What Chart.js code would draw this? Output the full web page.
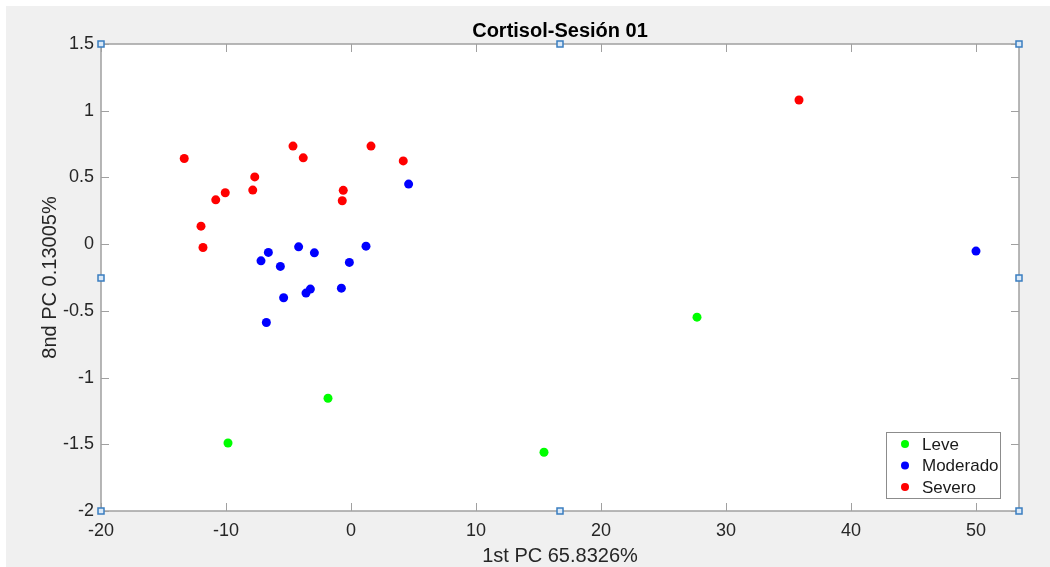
<!DOCTYPE html>
<html>
<head>
<meta charset="utf-8">
<script src="https://cdn.jsdelivr.net/npm/chart.js"></script>
<style>
  html, body { margin: 0; padding: 0; background: #ffffff; }
  #wrap { width: 1050px; height: 567px; }
</style>
</head>
<body>
<div id="wrap"><canvas id="pca"></canvas></div>
<script>
// PCA scores, session 01, grouped by severity
const leveX = [-9.84, -1.84, 15.44, 27.68];
const leveY = [-1.49, -1.155, -1.56, -0.547];

const moderadoX = [4.61, -6.61, -7.2, -5.65, -4.19, -2.93, 1.2, -0.13, -5.39, -3.25, -3.6, -0.77, -6.77, 50.0];
const moderadoY = [0.45, -0.062, -0.125, -0.167, -0.02, -0.065, -0.015, -0.137, -0.402, -0.337, -0.367, -0.33, -0.587, -0.052];

const severoX = [-13.34, -4.64, -3.82, 1.6, 4.18, -7.7, -7.86, -10.06, -10.82, -0.62, -0.7, -12.0, -11.84, 35.84];
const severoY = [0.642, 0.735, 0.647, 0.735, 0.624, 0.504, 0.405, 0.385, 0.332, 0.403, 0.325, 0.135, -0.025, 1.08];

const xTicks = [-20, -10, 0, 10, 20, 30, 40, 50];
const yTicks = [-2, -1.5, -1, -0.5, 0, 0.5, 1, 1.5];
const xLimits = [-20, 53.44];
const yLimits = [-2, 1.5];

const titleText = 'Cortisol-Sesión 01';
const xLabel = '1st PC 65.8326%';
const yLabel = '8nd PC 0.13005%';

const FONT = '"Liberation Sans", Arial, Helvetica, sans-serif';
const AXIS_GRAY = '#a0a0a0';
const TEXT_GRAY = '#262626';

const toPoints = (xs, ys) => xs.map((x, i) => ({ x: x, y: ys[i] }));

// figure background, white axes box, inward ticks on all four sides
const axesFrame = {
  id: 'axesFrame',
  beforeDraw(chart) {
    const c = chart.ctx;
    const a = chart.chartArea;
    c.save();
    c.fillStyle = '#ffffff';
    c.fillRect(0, 0, chart.width, chart.height);
    c.fillStyle = '#f0f0f0';
    c.fillRect(6, 6, chart.width - 6, chart.height - 6);
    c.fillStyle = '#ffffff';
    c.fillRect(a.left, a.top, a.right - a.left, a.bottom - a.top);
    c.restore();
  },
  afterDatasetsDraw(chart) {
    const c = chart.ctx;
    const a = chart.chartArea;
    const xs = chart.scales.x, ys = chart.scales.y;
    const tl = 8;
    c.save();
    c.strokeStyle = AXIS_GRAY;
    c.lineWidth = 1;
    c.beginPath();
    xTicks.forEach(v => {
      const px = Math.round(xs.getPixelForValue(v)) + 0.5;
      c.moveTo(px, a.bottom); c.lineTo(px, a.bottom - tl);
      c.moveTo(px, a.top); c.lineTo(px, a.top + tl);
    });
    yTicks.forEach(v => {
      const py = Math.round(ys.getPixelForValue(v)) + 0.5;
      c.moveTo(a.left, py); c.lineTo(a.left + tl, py);
      c.moveTo(a.right, py); c.lineTo(a.right - tl, py);
    });
    c.stroke();
    c.lineWidth = 1.5;
    c.strokeRect(a.left, a.top, a.right - a.left, a.bottom - a.top);

    // title and axis labels
    c.fillStyle = '#000000';
    c.textAlign = 'center';
    c.textBaseline = 'alphabetic';
    const cx = (a.left + a.right) / 2;
    c.font = 'bold 20px ' + FONT;
    c.fillText(titleText, cx, 37);
    c.fillStyle = TEXT_GRAY;
    c.font = '20px ' + FONT;
    c.fillText(xLabel, cx, 562);
    c.translate(56, (a.top + a.bottom) / 2);
    c.rotate(-Math.PI / 2);
    c.fillText(yLabel, 0, 0);
    c.restore();
  }
};

// legend box in the lower right corner of the axes
const cornerLegend = {
  id: 'cornerLegend',
  afterDraw(chart) {
    const c = chart.ctx;
    const a = chart.chartArea;
    const w = 114, h = 66;
    const x0 = a.right - 133, y0 = a.bottom - 79;
    c.save();
    c.fillStyle = '#ffffff';
    c.fillRect(x0, y0, w, h);
    c.strokeStyle = '#8c8c8c';
    c.lineWidth = 1;
    c.strokeRect(x0 + 0.5, y0 + 0.5, w, h);
    c.font = '17px ' + FONT;
    c.textAlign = 'left';
    c.textBaseline = 'middle';
    chart.data.datasets.forEach((ds, i) => {
      const yy = y0 + 12 + i * 21.5;
      c.fillStyle = ds.backgroundColor;
      c.beginPath();
      c.arc(x0 + 19, yy, 4, 0, Math.PI * 2);
      c.fill();
      c.fillStyle = '#1a1a1a';
      c.fillText(ds.label, x0 + 36, yy + 1);
    });

    // selection handles on the axes box
    const hx = [a.left, (a.left + a.right) / 2, a.right];
    const hy = [a.top, (a.top + a.bottom) / 2, a.bottom];
    c.lineWidth = 1.5;
    c.strokeStyle = '#3a7dc0';
    c.fillStyle = '#dbe9f7';
    hx.forEach((px, i) => hy.forEach((py, j) => {
      if (i === 1 && j === 1) return;
      c.fillRect(Math.round(px) - 3, Math.round(py) - 3, 6, 6);
      c.strokeRect(Math.round(px) - 3, Math.round(py) - 3, 6, 6);
    }));
    c.restore();
  }
};

const ctx = document.getElementById('pca').getContext('2d');
new Chart(ctx, {
  type: 'scatter',
  data: {
    datasets: [
      { label: 'Leve', data: toPoints(leveX, leveY), backgroundColor: '#00ff00' },
      { label: 'Moderado', data: toPoints(moderadoX, moderadoY), backgroundColor: '#0000ff' },
      { label: 'Severo', data: toPoints(severoX, severoY), backgroundColor: '#ff0000' }
    ]
  },
  options: {
    responsive: true,
    maintainAspectRatio: false,
    animation: false,
    elements: { point: { radius: 4.5, borderWidth: 0, hoverRadius: 4.5 } },
    layout: { padding: { top: 44, right: 31, left: 0, bottom: 0 } },
    plugins: { legend: { display: false }, tooltip: { enabled: false } },
    scales: {
      x: {
        type: 'linear',
        min: xLimits[0],
        max: xLimits[1],
        afterFit: s => { s.height = 56; },
        afterBuildTicks: s => { s.ticks = xTicks.map(v => ({ value: v })); },
        grid: { display: false, drawTicks: false },
        border: { display: false },
        ticks: {
          padding: 9,
          maxRotation: 0,
          autoSkip: false,
          color: TEXT_GRAY,
          font: { family: FONT, size: 18 },
          callback: v => String(v)
        }
      },
      y: {
        type: 'linear',
        min: yLimits[0],
        max: yLimits[1],
        afterFit: s => { s.width = 101; },
        afterBuildTicks: s => { s.ticks = yTicks.map(v => ({ value: v })); },
        grid: { display: false, drawTicks: false },
        border: { display: false },
        ticks: {
          padding: 7,
          autoSkip: false,
          color: TEXT_GRAY,
          font: { family: FONT, size: 18 },
          callback: v => String(v)
        }
      }
    }
  },
  plugins: [axesFrame, cornerLegend]
});
</script>
</body>
</html>
